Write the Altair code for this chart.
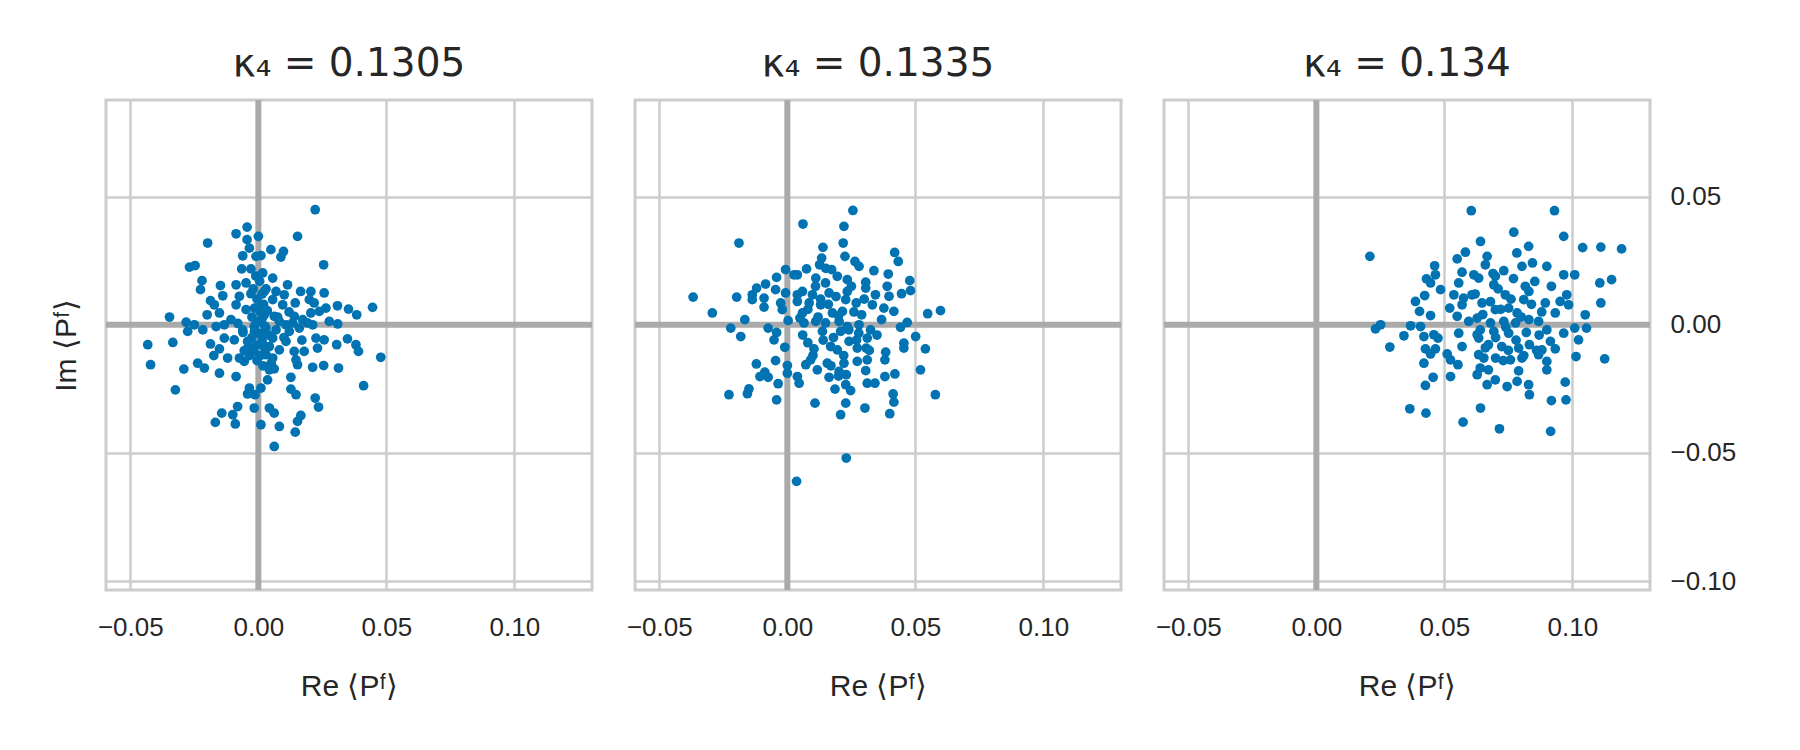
import altair as alt
import pandas as pd

# Values, in units of 1e-3: (Re <P^F>, Im <P^F>)
TITLES = ["κ₄ = 0.1305", "κ₄ = 0.1335", "κ₄ = 0.134"]

pts_1305 = [
    (-4.4, 38.1), (-8.7, 35.5), (-4.4, 33.2), (0.0, 34.5), (-19.8, 31.9), (-3.5, 29.9), (-6.1, 26.9),
    (-0.9, 26.7), (-26.9, 22.5), (-24.7, 23.1), (-6.5, 21.8), (-2.9, 21.8), (-22.0, 17.2), (-22.6, 13.7),
    (-14.8, 15.3), (-8.7, 15.6), (-4.8, 16.3), (-13.9, 11.3), (-18.7, 9.4), (-7.4, 11.1), (-2.9, 12.1),
    (-17.2, 7.8), (-8.7, 7.8), (-4.8, 5.9), (-20.0, 3.9), (-15.2, 4.6), (-34.7, 3.0), (-28.2, 1.0),
    (-25.0, 0.0), (-10.7, 2.0), (-13.3, 0.0), (-21.7, -2.0), (-27.6, -2.6), (-16.5, -0.7), (-6.1, -2.0),
    (-1.6, -0.7), (-43.2, -7.8), (-33.4, -6.9), (-18.7, -7.5), (-13.3, -5.2), (-9.4, -5.9), (-4.2, -6.5),
    (-15.2, -9.4), (-5.5, -10.1), (-17.4, -12.0), (-12.0, -13.0), (-7.4, -13.0), (-42.1, -15.6),
    (-23.7, -15.0), (-21.1, -16.9), (-29.1, -17.3), (-15.2, -18.9), (-8.7, -20.2), (-5.5, -14.3),
    (-32.4, -25.4), (-3.5, -24.7), (-4.2, -27.0), (-1.3, -27.3), (-8.1, -31.9), (-1.6, -32.5),
    (-14.3, -34.5), (-10.0, -35.1), (-16.8, -38.1), (-9.0, -38.7), (1.0, -39.0),
    (22.2, 44.9), (15.3, 34.5), (4.9, 29.3), (9.8, 28.6), (8.8, 26.4), (1.0, 27.0), (25.5, 23.4),
    (1.7, 20.2), (5.6, 18.2), (11.4, 15.6), (2.3, 13.0), (6.9, 13.0), (16.5, 13.0), (20.5, 13.0),
    (25.7, 12.4), (10.1, 11.7), (5.6, 9.8), (14.4, 8.5), (19.9, 9.8), (21.8, 8.5), (30.9, 7.4),
    (35.2, 6.1), (38.4, 3.9), (44.6, 6.8), (1.7, 7.8), (9.5, 7.8), (26.4, 6.5), (23.8, 5.2), (20.5, 4.6),
    (2.3, 3.9), (6.2, 3.3), (14.0, 3.3), (17.3, 2.0), (13.4, 0.7), (8.2, 1.3), (10.8, 0.0), (16.0, -1.3),
    (21.2, 0.0), (19.2, 0.7), (27.7, 1.3), (31.0, 0.3), (3.0, -1.3), (6.9, -2.0), (12.1, -2.6),
    (1.7, -3.9), (5.6, -5.2), (22.5, -5.2), (25.7, -5.9), (23.1, -9.1), (10.8, -6.5), (30.6, -7.8),
    (34.8, -5.5), (38.1, -7.8), (39.1, -10.4), (47.8, -12.7), (4.3, -8.5), (8.2, -9.8), (14.0, -10.4),
    (17.9, -10.4), (3.0, -11.7), (5.6, -13.0), (14.7, -13.7), (15.3, -15.6), (21.2, -16.6),
    (25.5, -15.9), (31.3, -16.9), (4.3, -17.6), (6.2, -17.2), (3.6, -21.5), (12.7, -20.5), (1.0, -24.7),
    (12.7, -25.1), (14.7, -27.3), (41.1, -23.8), (22.2, -28.6), (23.5, -32.1), (4.3, -32.5),
    (6.2, -34.5), (16.6, -35.4), (15.3, -37.7), (8.2, -39.7), (14.4, -41.9), (6.2, -47.5),
    (-1.0, 19.0), (0.5, 17.0), (-2.0, 14.0), (1.5, 12.0), (-0.5, 10.0), (2.0, 8.0), (-1.5, 6.5),
    (0.8, 5.0), (-2.5, 3.0), (1.5, 2.5), (-0.5, 1.0), (2.5, -0.5), (-1.5, -2.5), (0.5, -3.5),
    (-2.5, -5.0), (1.5, -6.5), (-0.8, -8.0), (2.5, -9.0), (-1.8, -10.5), (0.8, -12.0), (-0.5, -14.0),
    (1.8, -16.0), (3.5, 5.5), (4.0, -4.0), (-3.5, -12.0), (3.0, 14.0), (7.5, 3.0), (10.0, -5.0),
    (12.0, 5.0), (-8.0, 0.5), (-6.0, -3.0), (17.0, -6.0), (5.0, -15.0), (-4.0, -9.0),
]

pts_1335 = [
    (-18.9, 31.9), (-0.7, 21.5), (2.6, 19.5), (-4.2, 18.5), (-12.0, 14.3), (-8.5, 15.9), (-13.7, 11.7),
    (-13.7, 9.8), (-9.1, 10.4), (-9.1, 6.9), (-4.6, 13.7), (-0.7, 12.4), (-2.6, 8.5), (-2.0, 5.9),
    (3.9, 11.7), (-36.8, 10.8), (-19.8, 10.8), (-29.3, 4.6), (-16.6, 2.0), (-22.1, -1.3), (-18.2, -4.6),
    (-7.5, -1.3), (-4.2, -3.0), (-5.2, -5.9), (0.3, 1.6), (-1.0, -8.8), (4.9, 2.6), (-12.1, -15.3),
    (-4.6, -14.0), (-8.8, -18.5), (-10.7, -20.2), (-7.5, -20.5), (0.0, -15.9), (0.0, -18.9),
    (3.9, -20.2), (-3.6, -23.0), (-15.0, -25.0), (-15.6, -26.9), (-22.8, -27.3), (-4.2, -29.3),
    (3.6, -61.1),
    (25.6, 44.6), (6.1, 39.3), (22.1, 38.4), (21.8, 31.9), (13.9, 30.2), (22.5, 26.7), (13.4, 26.0),
    (41.9, 28.2), (43.3, 24.7), (26.4, 24.7), (28.0, 22.8), (12.6, 23.4), (7.5, 21.8), (17.3, 21.5),
    (33.8, 21.1), (39.4, 19.8), (19.5, 18.9), (23.4, 17.6), (30.6, 16.6), (47.8, 17.2), (3.9, 19.5),
    (11.1, 18.2), (14.9, 16.3), (30.6, 14.3), (39.0, 15.0), (48.1, 13.3), (44.6, 12.1), (5.9, 13.0),
    (9.8, 11.7), (16.3, 12.4), (23.4, 13.0), (34.4, 11.7), (39.7, 11.1), (22.8, 9.8), (26.9, 8.5),
    (3.9, 9.1), (8.5, 8.5), (13.0, 7.8), (33.2, 7.8), (37.7, 6.5), (41.6, 5.2), (5.9, 4.6), (17.6, 4.6),
    (21.5, 5.2), (29.0, 3.9), (36.8, 2.0), (6.5, 0.7), (11.1, 1.3), (14.9, 0.7), (20.2, 1.3),
    (23.4, -0.7), (32.5, -2.0), (46.8, 0.9), (44.2, -1.0), (50.1, -4.6), (13.7, -2.6), (20.8, -2.6),
    (27.9, -3.3), (31.2, -5.2), (10.4, -9.4), (16.9, -8.5), (24.1, -6.5), (19.5, -9.8), (27.3, -9.1),
    (30.8, -9.1), (38.4, -10.7), (45.5, -9.1), (45.5, -7.2), (38.1, -13.7), (31.2, -13.7), (7.2, -15.6),
    (15.6, -15.0), (22.1, -15.0), (27.3, -14.3), (9.1, -13.7), (11.7, -17.6), (16.3, -20.5),
    (20.2, -18.2), (23.0, -19.5), (30.6, -17.9), (38.1, -20.2), (42.0, -19.2), (52.0, -17.6),
    (4.6, -22.8), (18.6, -25.1), (22.8, -23.4), (24.7, -25.7), (31.2, -22.8), (34.2, -22.8),
    (41.3, -27.0), (41.6, -30.2), (10.8, -30.6), (22.8, -30.6), (30.3, -32.5), (20.8, -35.1),
    (40.0, -34.7), (23.0, -52.0),
    (59.8, 5.5), (54.8, 4.3), (53.9, -9.4), (57.8, -27.3),
    (8.0, 6.0), (12.0, 3.0), (16.0, 8.0), (18.0, -5.0), (20.0, 3.5), (24.0, -2.0), (26.0, 5.0),
    (28.0, 0.0), (14.0, -6.0), (10.0, -12.0), (22.0, -12.0), (17.0, -16.0), (13.0, 10.0), (27.0, -6.0),
    (19.0, 11.0), (25.0, 15.0), (6.0, -4.0), (8.0, -7.0), (32.0, -10.0), (35.0, -4.0), (30.0, 10.0),
    (11.0, 15.0), (15.0, 22.0), (20.0, -20.0),
]

pts_134 = [
    (60.5, 44.5), (20.9, 26.7), (64.1, 32.5), (58.2, 28.3), (55.0, 25.7), (46.2, 23.0), (46.5, 19.5),
    (43.0, 17.9), (44.6, 16.3), (56.9, 20.5), (61.5, 19.5), (55.6, 16.3), (48.5, 13.7), (42.3, 11.4),
    (38.7, 9.1), (40.3, 5.2), (44.6, 3.6), (53.7, 11.7), (52.1, 6.5), (57.5, 10.4), (60.8, 11.7),
    (56.9, 7.8), (55.0, 3.3), (59.5, 1.3), (55.6, -3.3), (25.1, 0.0), (23.1, -1.6), (36.8, -0.4),
    (34.2, -4.3), (40.7, -0.7), (42.0, -4.6), (45.9, -3.9), (47.5, -5.2), (28.7, -8.7), (42.6, -9.4),
    (46.5, -9.4), (44.6, -11.4), (42.0, -15.0), (51.1, -11.4), (52.4, -13.7), (55.3, -15.6),
    (56.9, -8.5), (62.8, -3.9), (45.6, -20.5), (42.6, -23.7), (52.4, -20.2), (62.8, -19.5),
    (36.5, -32.8), (42.8, -34.5), (57.3, -38.0), (64.1, -32.5), (63.4, -11.7),
    (93.0, 44.5), (77.1, 36.1), (96.6, 34.5), (82.9, 30.6), (78.3, 28.0), (66.7, 26.7), (66.0, 23.4),
    (80.3, 22.8), (84.4, 24.1), (90.0, 22.8), (73.2, 21.1), (63.4, 18.2), (69.9, 18.9), (85.3, 16.9),
    (96.6, 19.5), (100.9, 19.5), (81.6, 15.0), (91.8, 15.0), (69.3, 15.6), (73.8, 11.7), (64.7, 8.5),
    (81.0, 9.8), (89.4, 8.5), (97.8, 11.7), (95.2, 9.1), (98.5, 7.8), (69.9, 5.9), (75.1, 6.5),
    (78.4, 4.6), (93.3, 4.6), (105.0, 3.9), (62.8, 2.6), (68.0, 0.7), (73.2, 1.3), (77.8, 0.7),
    (83.0, 2.0), (86.8, 1.3), (100.9, -1.3), (105.5, -1.3), (90.0, -2.0), (96.6, -3.3), (69.3, -2.6),
    (75.1, -3.3), (63.4, -5.2), (91.4, -6.5), (102.4, -5.9), (67.2, -7.8), (72.4, -8.5), (79.0, -9.1),
    (83.2, -7.8), (88.1, -9.8), (93.3, -9.4), (65.4, -13.0), (70.0, -13.0), (75.8, -13.7),
    (80.3, -13.0), (86.8, -11.7), (90.0, -14.3), (101.4, -12.4), (64.0, -16.9), (67.2, -17.6),
    (90.0, -17.6), (66.7, -23.4), (69.9, -21.5), (74.5, -24.1), (78.4, -22.1), (82.9, -23.4),
    (83.2, -27.3), (97.2, -22.4), (91.8, -29.6), (97.5, -29.3), (71.5, -40.6), (91.5, -41.6),
    (112.6, -13.3),
    (104.0, 30.1), (111.1, 30.3), (119.2, 29.6), (110.7, 16.3), (115.3, 17.6), (111.1, 8.5),
    (62.0, 12.0), (65.0, 4.0), (68.0, 9.0), (70.0, -5.0), (72.0, 6.0), (74.0, -1.0), (76.0, 10.0),
    (78.0, -6.0), (80.0, 3.0), (82.0, -3.0), (84.0, 8.0), (86.0, -10.0), (71.0, 14.0), (77.0, 18.0),
    (66.0, -9.0), (73.0, -14.0), (79.0, -18.0), (83.0, 13.0), (88.0, 5.0), (69.0, 20.0), (75.0, -10.0),
    (81.0, -12.0), (64.0, -2.0), (87.0, -4.0),
]

PANELS = [pts_1305, pts_1335, pts_134]
X_TICKS = [-0.05, 0.0, 0.05, 0.10]
Y_TICKS = [-0.10, -0.05, 0.0, 0.05]
X_DOMAIN = [-0.0595, 0.1303]
Y_DOMAIN = [-0.1035, 0.0877]
X_TITLE = "Re ⟨Pᶠ⟩"
Y_TITLE = "Im ⟨Pᶠ⟩"

DOT = "#0173b2"
ZERO = "#aaaaaa"
GRID = "#cccccc"
TXT = "#262626"
LABEL_EXPR = "replace(format(datum.value, '.2f'), '-', '\u2212')"
LAB = dict(labelFont="Liberation Sans", labelFontSize=26, labelColor=TXT,
           titleFont="Liberation Sans", titleFontSize=30, titleColor=TXT, titleFontWeight="normal",
           gridColor=GRID, gridWidth=2.5)


def make_panel(i, pts, title):
    df = pd.DataFrame(pts, columns=["re", "im"]) / 1000.0
    xscale = alt.Scale(domain=X_DOMAIN, nice=False, zero=False)
    yscale = alt.Scale(domain=Y_DOMAIN, nice=False, zero=False)
    xaxis = alt.Axis(values=X_TICKS, grid=True, ticks=False, tickSize=0, domain=False,
                     labelExpr=LABEL_EXPR, labelPadding=24, titlePadding=31, title=X_TITLE, **LAB)
    if i == 0:
        yaxis = alt.Axis(values=Y_TICKS, grid=True, ticks=False, tickSize=0, domain=False,
                         labels=False, title=Y_TITLE, titlePadding=25, **LAB)
    elif i == 1:
        yaxis = alt.Axis(values=Y_TICKS, grid=True, ticks=False, tickSize=0, domain=False,
                         labels=False, title=None, **LAB)
    else:
        yaxis = alt.Axis(values=Y_TICKS, grid=True, ticks=False, tickSize=0, domain=False,
                         orient="right", labelExpr=LABEL_EXPR, labelPadding=20, title=None, **LAB)

    zero_df = pd.DataFrame({"re": [0.0], "im": [0.0]})
    vline = alt.Chart(zero_df).mark_rule(color=ZERO, strokeWidth=6).encode(
        x=alt.X("re:Q", scale=xscale, axis=xaxis))
    hline = alt.Chart(zero_df).mark_rule(color=ZERO, strokeWidth=6).encode(
        y=alt.Y("im:Q", scale=yscale, axis=yaxis))
    dots = alt.Chart(df).mark_circle(color=DOT, size=95, opacity=1).encode(
        x=alt.X("re:Q", scale=xscale, axis=xaxis),
        y=alt.Y("im:Q", scale=yscale, axis=yaxis),
    )
    return alt.layer(vline, hline, dots).properties(
        width=486, height=490,
        title=alt.TitleParams(text=title, fontSize=39, font="DejaVu Sans", fontWeight="normal",
                              color=TXT, offset=13),
    )


panels = [make_panel(i, p, t) for i, (p, t) in enumerate(zip(PANELS, TITLES))]

chart = alt.hconcat(*panels, spacing=43, bounds="flush").properties(
    padding={"top": 35, "left": 41, "right": 10, "bottom": 10}
).configure_view(
    stroke=GRID, strokeWidth=3
)

chart.save("out.html", embed_options={"renderer": "svg", "actions": False})
